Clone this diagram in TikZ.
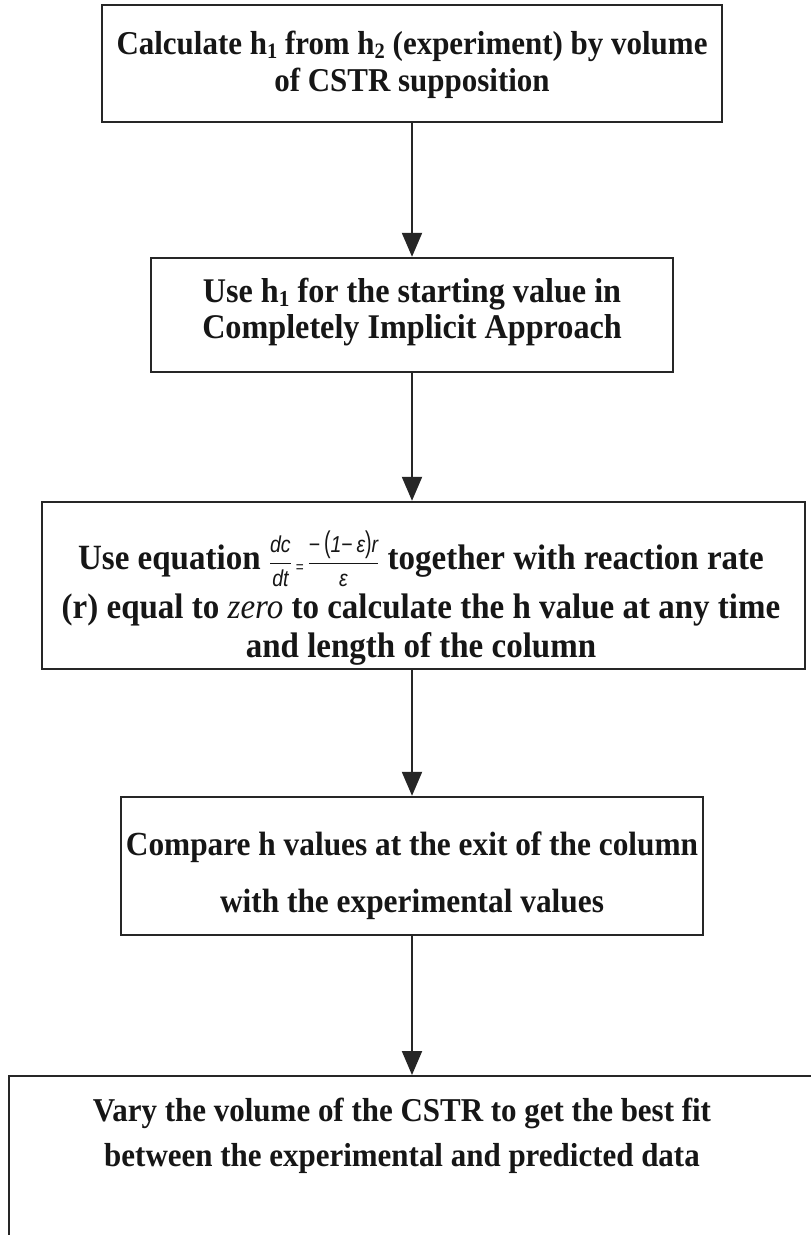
\documentclass[tikz,border=0pt]{standalone}
\usepackage{fontspec}
\setmainfont{Liberation Serif}[FakeStretch=0.93]
\newfontfamily\eqf{Liberation Sans}[FakeStretch=0.85]
\usepackage{graphicx}
\usetikzlibrary{arrows.meta}
\definecolor{linec}{HTML}{262626}
\definecolor{txtc}{HTML}{161616}
\newcommand{\hsub}[1]{\raisebox{-0.12em}{\fontsize{0.66em}{0.66em}\selectfont #1}}
\newcommand{\bigp}[1]{{\upshape\scalebox{1}[1.3]{#1}}}
\newcommand{\flowfrac}{{\eqf\mdseries\itshape\fontsize{23}{23}\selectfont
 $\displaystyle\frac{\mbox{dc}}{\mbox{dt}}\mbox{\,\raisebox{-3pt}{\upshape\fontsize{16}{16}\selectfont =}\,}\frac{\mbox{{\upshape −}\,\bigp{(}1{\upshape −}\,ε\bigp{)}r}}{\mbox{ε}}$}}
\begin{document}
\begin{tikzpicture}[x=1pt,y=-1pt,
  box/.style={draw=linec, line width=2.4pt, fill=white, inner sep=0pt},
  txt/.style={align=center, text=txtc, inner sep=0pt},
  arr/.style={draw=linec, line width=2pt, -{Triangle[length=24pt,width=20pt]}}]
\useasboundingbox (0,0) rectangle (811,1235);
\clip (0,0) rectangle (811,1235);
\fill[white] (0,0) rectangle (811,1235);

% boxes
\node[box, minimum width=620pt, minimum height=117pt] (b1) at (412,63.5) {};
\node[box, minimum width=522pt, minimum height=114pt] (b2) at (412,315) {};
\node[box, minimum width=763pt, minimum height=167pt] (b3) at (423.5,585.5) {};
\node[box, minimum width=582pt, minimum height=138pt] (b4) at (412,866) {};
\node[box, minimum width=830pt, minimum height=200pt, anchor=north west] (b5) at (8,1075) {};

% texts
\node[txt, font=\bfseries\fontsize{33.3}{37}\selectfont] (t1) at (412,64.5)
  {Calculate h\hsub{1} from h\hsub{2} (experiment) by volume\\of CSTR supposition};
\node[txt, font=\bfseries\fontsize{34.6}{35.5}\selectfont] (t2) at (412,312)
  {Use h\hsub{1} for the starting value in\\Completely Implicit Approach};
\node[txt, font=\bfseries\fontsize{35.5}{39}\selectfont] (t3) at (421,598)
  {Use equation \flowfrac\ together with reaction rate\\[6pt]
   (r) equal to {\mdseries\itshape zero} to calculate the h value at any time\\
   and length of the column};
\node[txt, font=\bfseries\fontsize{33.7}{57}\selectfont] (t4) at (412,876)
  {Compare h values at the exit of the column\\with the experimental values};
\node[txt, font=\bfseries\fontsize{33.3}{45}\selectfont] (t5) at (402,1136)
  {Vary the volume of the CSTR to get the best fit\\between the experimental and predicted data};

% connectors
\draw[arr] (b1.south) -- (b1.south |- b2.north);
\draw[arr] (b2.south) -- (b2.south |- b3.north);
\draw[arr] (b2.south |- b3.south) -- (b4.north);
\draw[arr] (b4.south) -- (b4.south |- b5.north);
\end{tikzpicture}
\end{document}
